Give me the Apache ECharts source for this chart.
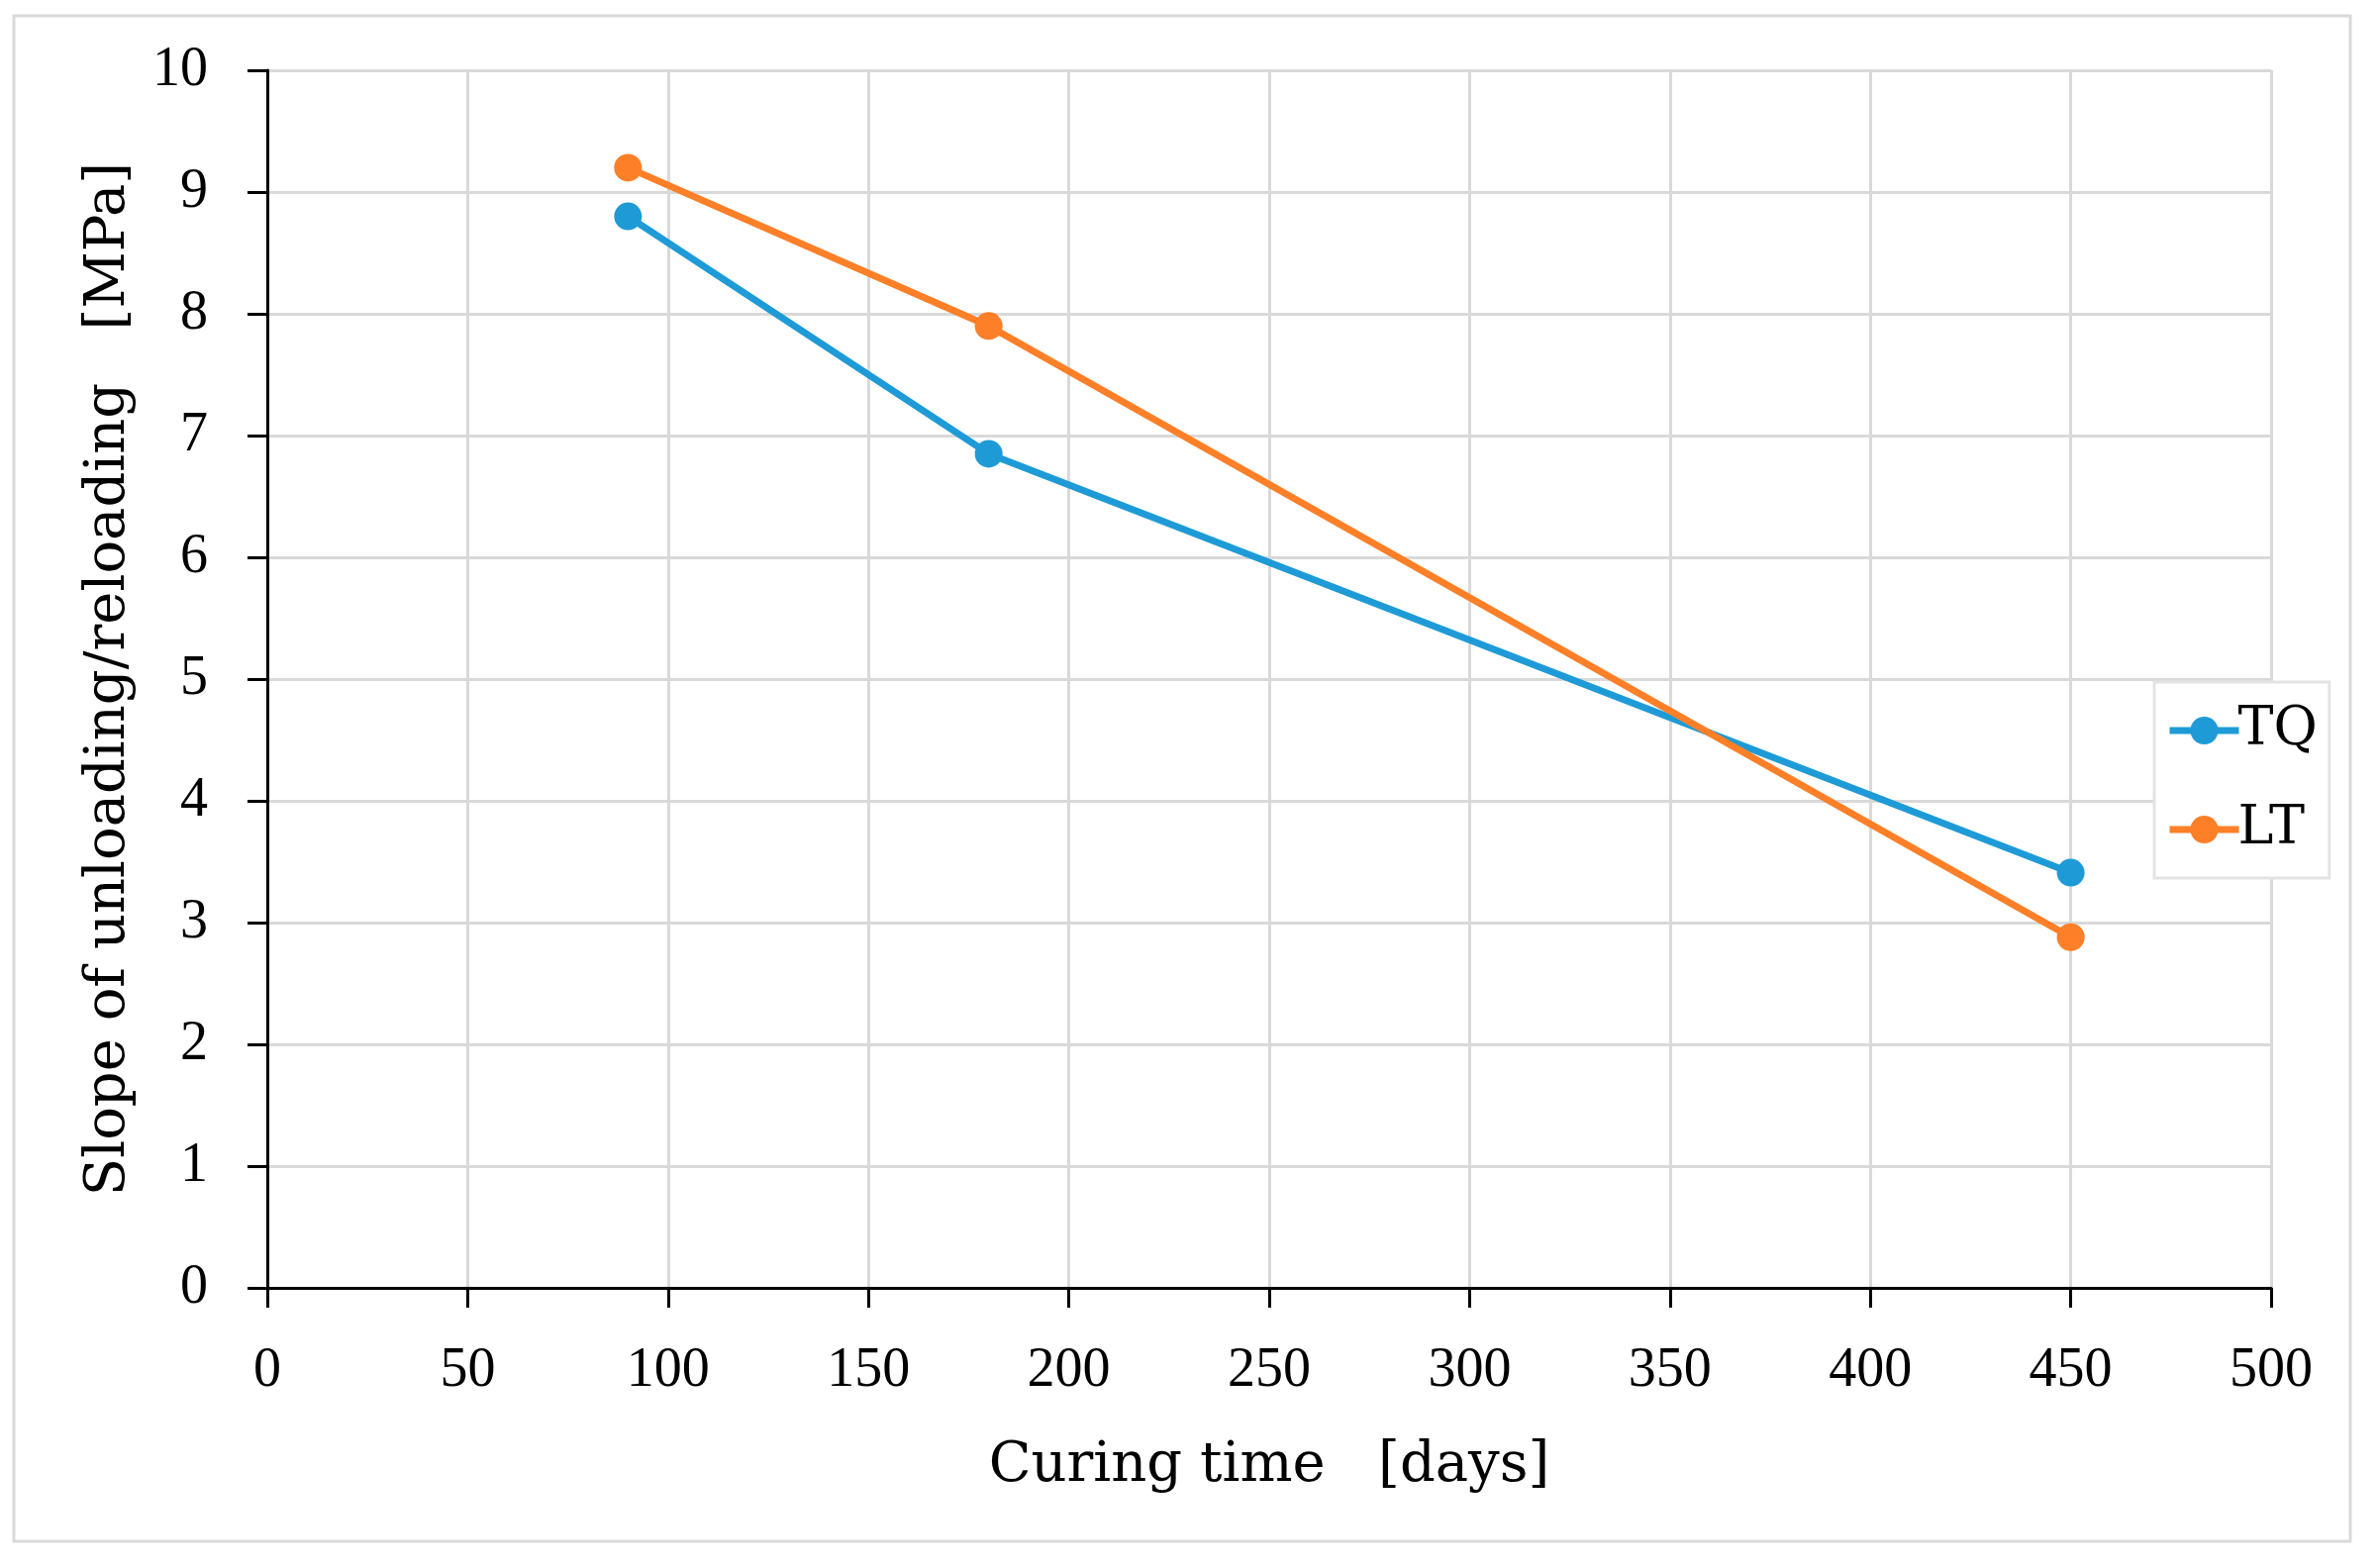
<!DOCTYPE html>
<html>
<head>
<meta charset="utf-8">
<script src="https://cdn.jsdelivr.net/npm/echarts@6/dist/echarts.min.js"></script>
<style>
html,body{margin:0;padding:0;background:#fff;}
#chart{width:2404px;height:1584px;}
</style>
</head>
<body>
<div id="chart"></div>
<script>
const curingDays = [90, 180, 450];
const tqValues = [8.8, 6.85, 3.41];
const ltValues = [9.2, 7.9, 2.88];
const seriesNames = ['TQ', 'LT'];
const xAxisTitle = 'Curing time   [days]';
const yAxisTitle = 'Slope of unloading/reloading   [MPa]';

const FONT = 'Liberation Serif';
const TFONT = 'DejaVu Serif';
const chart = echarts.init(document.getElementById('chart'), null, {renderer: 'canvas'});

function pairs(xs, ys) { return xs.map((x, i) => [x, ys[i]]); }

chart.setOption({
  backgroundColor: '#ffffff',
  animation: false,
  textStyle: {fontFamily: FONT, color: '#000'},
  graphic: [{
    type: 'rect',
    shape: {x: 14, y: 16, width: 2360, height: 1541},
    style: {fill: 'none', stroke: '#d9d9d9', lineWidth: 3},
    z: -1
  }],
  grid: {left: 270, top: 71, right: 110, bottom: 283, containLabel: false},
  xAxis: {
    type: 'value',
    min: 0, max: 500, interval: 50,
    name: xAxisTitle,
    nameLocation: 'middle',
    nameGap: 152,
    nameTextStyle: {fontFamily: TFONT, fontSize: 56, color: '#000'},
    axisLine: {show: true, onZero: false, lineStyle: {color: '#000', width: 3}},
    axisTick: {show: true, length: 20, lineStyle: {color: '#000', width: 3}},
    axisLabel: {fontFamily: FONT, fontSize: 56, color: '#000', margin: 56},
    splitLine: {show: true, lineStyle: {color: '#d9d9d9', width: 3}}
  },
  yAxis: {
    type: 'value',
    min: 0, max: 10, interval: 1,
    name: yAxisTitle,
    nameLocation: 'middle',
    nameGap: 132,
    nameTextStyle: {fontFamily: TFONT, fontSize: 56, color: '#000'},
    axisLine: {show: true, lineStyle: {color: '#000', width: 3}},
    axisTick: {show: true, length: 20, lineStyle: {color: '#000', width: 3}},
    axisLabel: {fontFamily: FONT, fontSize: 56, color: '#000', margin: 60},
    splitLine: {show: true, lineStyle: {color: '#d9d9d9', width: 3}}
  },
  legend: {
    orient: 'vertical',
    left: 2176, top: 689,
    padding: [22, 12, 22, 12],
    itemGap: 46,
    itemWidth: 70, itemHeight: 35,
    borderColor: '#e3e3e3', borderWidth: 3,
    backgroundColor: '#fff',
    lineStyle: {width: 7},
    textStyle: {fontFamily: TFONT, fontSize: 54, lineHeight: 52, color: '#000', padding: [0,0,0,-6]},
    data: seriesNames
  },
  series: [
    {
      name: seriesNames[0], type: 'line',
      data: pairs(curingDays, tqValues),
      symbol: 'circle', symbolSize: 28,
      lineStyle: {color: '#1e9bd7', width: 7},
      itemStyle: {color: '#1e9bd7'},
      z: 3
    },
    {
      name: seriesNames[1], type: 'line',
      data: pairs(curingDays, ltValues),
      symbol: 'circle', symbolSize: 28,
      lineStyle: {color: '#fd7f27', width: 7},
      itemStyle: {color: '#fd7f27'},
      z: 4
    }
  ]
});
</script>
</body>
</html>
